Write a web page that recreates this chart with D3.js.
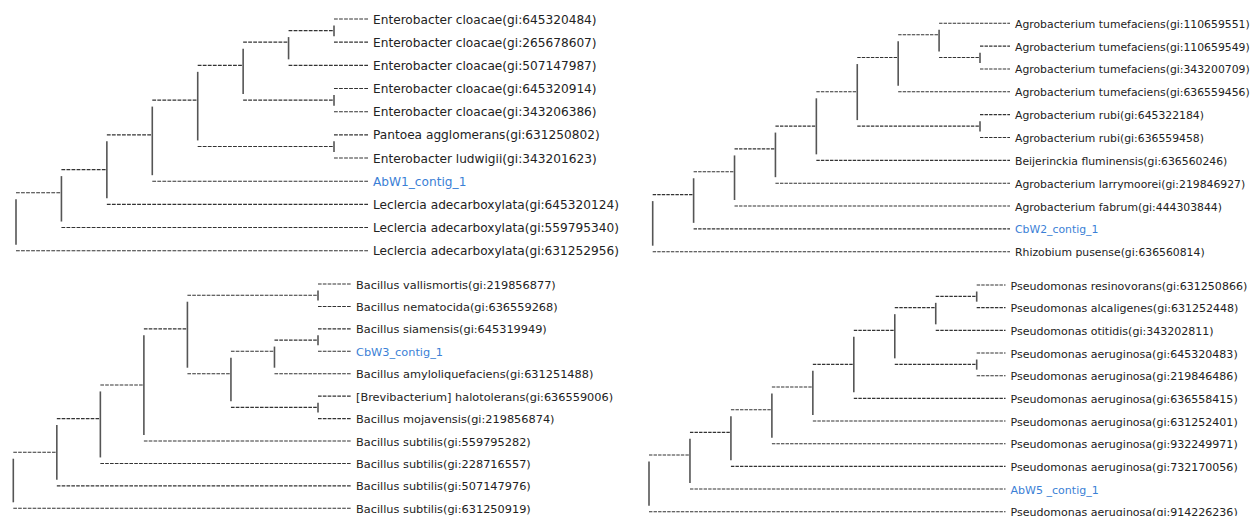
<!DOCTYPE html>
<html>
<head>
<meta charset="utf-8">
<script src="https://cdn.jsdelivr.net/npm/d3@7"></script>
<style>
  body { margin: 0; background: #fff; }
  svg { display: block; }
  .lbl { font-family: "DejaVu Sans", sans-serif; fill: #222; }
  .lbl.query { fill: #3b7fd6; }
</style>
</head>
<body>
<svg id="arbol" width="1257" height="516"></svg>
<script>
// leaf labels, top to bottom, for each tree
var hojas1 = ["Enterobacter cloacae(gi:645320484)", "Enterobacter cloacae(gi:265678607)",
  "Enterobacter cloacae(gi:507147987)", "Enterobacter cloacae(gi:645320914)",
  "Enterobacter cloacae(gi:343206386)", "Pantoea agglomerans(gi:631250802)",
  "Enterobacter ludwigii(gi:343201623)", "AbW1_contig_1",
  "Leclercia adecarboxylata(gi:645320124)", "Leclercia adecarboxylata(gi:559795340)",
  "Leclercia adecarboxylata(gi:631252956)"];
var hojas2 = ["Agrobacterium tumefaciens(gi:110659551)", "Agrobacterium tumefaciens(gi:110659549)",
  "Agrobacterium tumefaciens(gi:343200709)", "Agrobacterium tumefaciens(gi:636559456)",
  "Agrobacterium rubi(gi:645322184)", "Agrobacterium rubi(gi:636559458)",
  "Beijerinckia fluminensis(gi:636560246)", "Agrobacterium larrymoorei(gi:219846927)",
  "Agrobacterium fabrum(gi:444303844)", "CbW2_contig_1", "Rhizobium pusense(gi:636560814)"];
var hojas3 = ["Bacillus vallismortis(gi:219856877)", "Bacillus nematocida(gi:636559268)",
  "Bacillus siamensis(gi:645319949)", "CbW3_contig_1",
  "Bacillus amyloliquefaciens(gi:631251488)", "[Brevibacterium] halotolerans(gi:636559006)",
  "Bacillus mojavensis(gi:219856874)", "Bacillus subtilis(gi:559795282)",
  "Bacillus subtilis(gi:228716557)", "Bacillus subtilis(gi:507147976)",
  "Bacillus subtilis(gi:631250919)"];
var hojas4 = ["Pseudomonas resinovorans(gi:631250866)", "Pseudomonas alcaligenes(gi:631252448)",
  "Pseudomonas otitidis(gi:343202811)", "Pseudomonas aeruginosa(gi:645320483)",
  "Pseudomonas aeruginosa(gi:219846486)", "Pseudomonas aeruginosa(gi:636558415)",
  "Pseudomonas aeruginosa(gi:631252401)", "Pseudomonas aeruginosa(gi:932249971)",
  "Pseudomonas aeruginosa(gi:732170056)", "AbW5 _contig_1",
  "Pseudomonas aeruginosa(gi:914226236)"];

// topologies as nested arrays of leaf indices
var topo1 = [[[[[[[[0, 1], 2], [3, 4]], [5, 6]], 7], 8], 9], 10];
var topo2 = [[[[[[[[0, [1, 2]], 3], [4, 5]], 6], 7], 8], 9], 10];
var topo3 = [[[[[[0, 1], [[[2, 3], 4], [5, 6]]], 7], 8], 9], 10];
var topo4 = [[[[[[[[[0, 1], 2], [3, 4]], 5], 6], 7], 8], 9], 10];

// the contigs coloured blue
var consultas = ["AbW1_contig_1", "CbW2_contig_1", "CbW3_contig_1", "AbW5 _contig_1"];

// where each tree goes on the page; ancho = width of the first label
var paneles = [
  {hojas: hojas1, topo: topo1, raizX: 16,  h1X: 334,   textoX: 373,  y0: 19,  y10: 250.7, ancho: 224},
  {hojas: hojas2, topo: topo2, raizX: 652.7, h1X: 980, textoX: 1015, y0: 23.3, y10: 251.7, ancho: 235},
  {hojas: hojas3, topo: topo3, raizX: 13.3, h1X: 318,  textoX: 356,  y0: 284, y10: 508.3, ancho: 200},
  {hojas: hojas4, topo: topo4, raizX: 649, h1X: 976.7, textoX: 1010.5, y0: 285, y10: 511.7, ancho: 237}
];

var svg = d3.select("#arbol");

paneles.forEach(function(p){
  var raiz = d3.hierarchy(p.topo, function(d){ return Array.isArray(d) ? d : null; });
  var x = d3.scaleLinear().domain([raiz.height, 1]).range([p.raizX, p.h1X]);
  var y = d3.scaleLinear().domain([0, p.hojas.length - 1]).range([p.y0, p.y10]);
  var finHoja = p.textoX - 5;
  var paso = (p.h1X - p.raizX) / (raiz.height - 1);
  var guion = (paso / 9 * 0.75) + "," + (paso / 9 * 0.25);

  // rows: leaves by index, inner nodes at the middle of their children, snapped to half rows
  raiz.eachAfter(function(n){
    if (!n.children){
      n.fila = n.data;
    } else {
      var m = (n.children[0].fila + n.children[n.children.length - 1].fila) / 2;
      n.fila = Math.floor(m * 2) / 2;
    }
  });

  var g = svg.append("g");

  // font size so the first label has the width seen in the picture
  var prueba = g.append("text").attr("class", "lbl").style("font-size", "12px").text(p.hojas[0]);
  var fs = 12 * p.ancho / prueba.node().getComputedTextLength();
  prueba.remove();

  // horizontal dashed branches
  raiz.descendants().forEach(function(n){
    if (!n.parent) return;
    g.append("line")
      .attr("x1", x(n.parent.height))
      .attr("x2", n.children ? x(n.height) : finHoja)
      .attr("y1", y(n.fila)).attr("y2", y(n.fila))
      .attr("stroke", "#333").attr("stroke-width", 1.1)
      .attr("stroke-dasharray", guion);
  });

  // vertical bars joining children
  raiz.descendants().forEach(function(n){
    if (!n.children) return;
    var a = n.children[0], b = n.children[n.children.length - 1];
    g.append("line")
      .attr("x1", x(n.height)).attr("x2", x(n.height))
      .attr("y1", y(a.fila) + 6.5).attr("y2", y(b.fila) - 6)
      .attr("stroke", "#555").attr("stroke-width", 1.6);
  });

  // labels
  raiz.leaves().forEach(function(n){
    var t = p.hojas[n.data];
    g.append("text")
      .attr("class", consultas.indexOf(t) >= 0 ? "lbl query" : "lbl")
      .attr("x", p.textoX)
      .attr("y", y(n.fila) + 4.5)
      .style("font-size", fs + "px")
      .text(t);
  });
});
</script>
</body>
</html>
